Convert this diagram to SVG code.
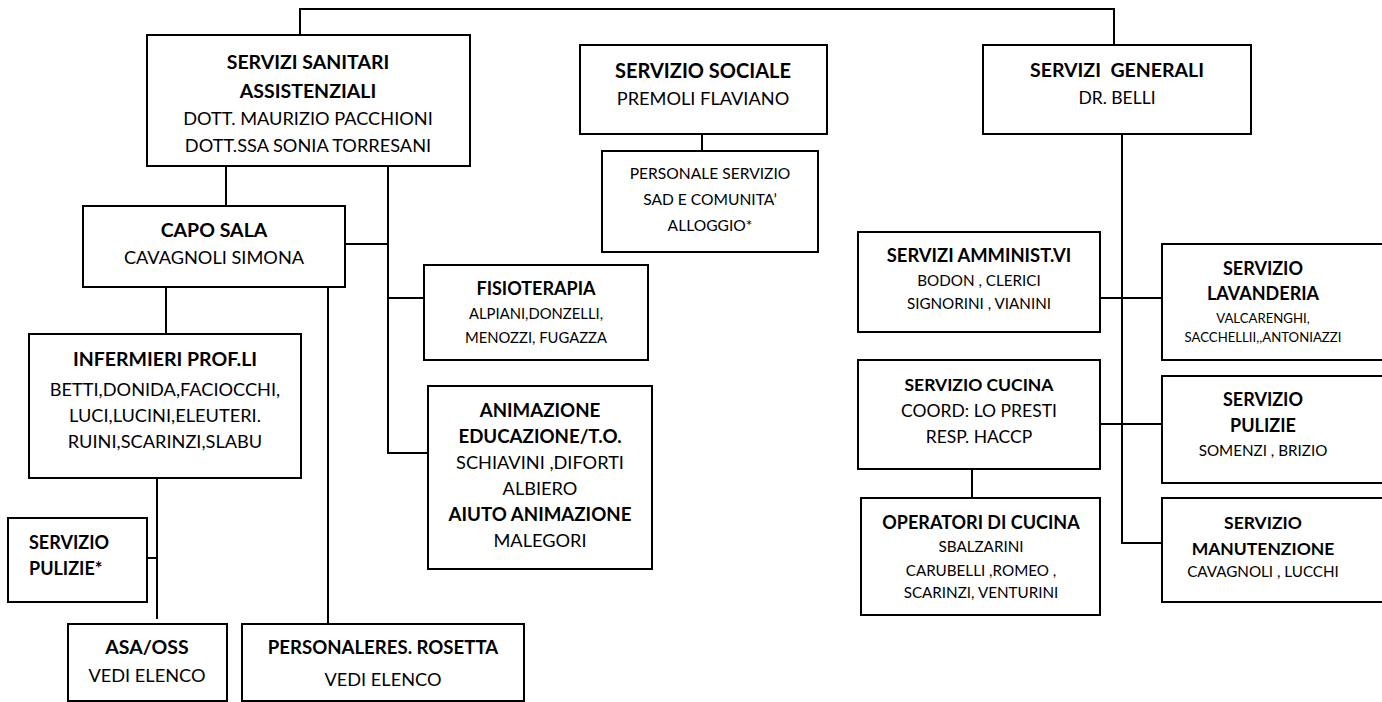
<svg xmlns="http://www.w3.org/2000/svg" width="1382" height="702" viewBox="0 0 1382 702">
<style>
rect{fill:#fff;stroke:#000;stroke-width:2}
#connectors line,#connectors polyline{stroke:#000;stroke-width:2;fill:none}
text{font-family:Lato,"Liberation Sans",sans-serif;fill:#000;text-anchor:middle;white-space:pre}
.b20{font-weight:bold;font-size:19.5px}
.b18{font-weight:bold;font-size:18px}
.r18{font-size:18.2px}
.r17{font-size:17.5px}
.r15{font-size:15.2px}
.r13{font-size:13.2px}
</style>
<rect x="0" y="0" width="1382" height="702" style="stroke:none"/>
<g id="connectors">
<polyline points="300,45 300,9 1114,9 1114,45"/>
<line x1="226" y1="166" x2="226" y2="206"/>
<polyline points="388,166 388,453 428,453"/>
<line x1="345" y1="244" x2="388" y2="244"/>
<line x1="388" y1="298" x2="424" y2="298"/>
<line x1="166" y1="287" x2="166" y2="334"/>
<line x1="328" y1="287" x2="328" y2="624"/>
<line x1="157" y1="478" x2="157" y2="619"/>
<line x1="147" y1="558" x2="157" y2="558"/>
<line x1="702" y1="134" x2="702" y2="151"/>
<polyline points="1122,134 1122,543 1162,543"/>
<line x1="1100" y1="298" x2="1162" y2="298"/>
<line x1="1100" y1="424" x2="1162" y2="424"/>
<line x1="972" y1="469" x2="972" y2="498"/>
</g>
<g id="servizi-sanitari">
<rect x="147" y="35" width="323" height="131"/>
<text x="308" y="69" class="b20">SERVIZI SANITARI</text>
<text x="308" y="98" class="b20">ASSISTENZIALI</text>
<text x="308" y="125" class="r18">DOTT. MAURIZIO PACCHIONI</text>
<text x="308" y="152" class="r18">DOTT.SSA SONIA TORRESANI</text>
</g>
<g id="capo-sala">
<rect x="83" y="206" width="262" height="81"/>
<text x="214" y="237" class="b20">CAPO SALA</text>
<text x="214" y="264" class="r18">CAVAGNOLI SIMONA</text>
</g>
<g id="infermieri">
<rect x="29" y="334" width="272" height="144"/>
<text x="165" y="366" class="b20">INFERMIERI PROF.LI</text>
<text x="165" y="396" class="r18">BETTI,DONIDA,FACIOCCHI,</text>
<text x="165" y="422" class="r18">LUCI,LUCINI,ELEUTERI.</text>
<text x="165" y="448" class="r18">RUINI,SCARINZI,SLABU</text>
</g>
<g id="servizio-pulizie-star">
<rect x="8" y="518" width="139" height="84"/>
<text x="29" y="549" class="b18" style="text-anchor:start">SERVIZIO</text>
<text x="29" y="575" class="b18" style="text-anchor:start">PULIZIE*</text>
</g>
<g id="asa-oss">
<rect x="68" y="624" width="159" height="77"/>
<text x="147" y="654" class="b20">ASA/OSS</text>
<text x="147" y="682" class="r18">VEDI ELENCO</text>
</g>
<g id="personale-res">
<rect x="242" y="624" width="282" height="77"/>
<text x="383" y="654" class="b18" style="font-size:18.6px">PERSONALERES. ROSETTA</text>
<text x="383" y="686" class="r18">VEDI ELENCO</text>
</g>
<g id="fisioterapia">
<rect x="424" y="265" width="224" height="95"/>
<text x="536" y="295" class="b18">FISIOTERAPIA</text>
<text x="536" y="319" class="r15" style="font-size:14.8px">ALPIANI,DONZELLI,</text>
<text x="536" y="343" class="r15" style="font-size:14.8px">MENOZZI, FUGAZZA</text>
</g>
<g id="animazione">
<rect x="428" y="386" width="224" height="183"/>
<text x="540" y="417" class="b18" style="font-size:18.7px">ANIMAZIONE</text>
<text x="540" y="443" class="b18" style="font-size:18.7px">EDUCAZIONE/T.O.</text>
<text x="540" y="469" class="r18">SCHIAVINI ,DIFORTI</text>
<text x="540" y="495" class="r18">ALBIERO</text>
<text x="540" y="521" class="b18" style="font-size:18.7px">AIUTO ANIMAZIONE</text>
<text x="540" y="547" class="r18">MALEGORI</text>
</g>
<g id="servizio-sociale">
<rect x="580" y="45" width="247" height="89"/>
<text x="703" y="78" class="b20" style="font-size:20px">SERVIZIO SOCIALE</text>
<text x="703" y="105" class="r18">PREMOLI FLAVIANO</text>
</g>
<g id="personale-servizio">
<rect x="602" y="151" width="216" height="101"/>
<text x="710" y="179" class="r15" style="font-size:15.6px">PERSONALE SERVIZIO</text>
<text x="710" y="205" class="r15" style="font-size:15.6px">SAD E COMUNITA’</text>
<text x="710" y="231" class="r15" style="font-size:15.6px">ALLOGGIO*</text>
</g>
<g id="servizi-generali">
<rect x="983" y="45" width="268" height="89"/>
<text x="1117" y="77" class="b20">SERVIZI  GENERALI</text>
<text x="1117" y="104" class="r17">DR. BELLI</text>
</g>
<g id="servizi-amministrativi">
<rect x="858" y="232" width="242" height="100"/>
<text x="979" y="262" class="b18" style="font-size:18.4px">SERVIZI AMMINIST.VI</text>
<text x="979" y="286" class="r15">BODON , CLERICI</text>
<text x="979" y="309" class="r15">SIGNORINI , VIANINI</text>
</g>
<g id="servizio-lavanderia">
<rect x="1162" y="244" width="224" height="116"/>
<text x="1263" y="275" class="b18">SERVIZIO</text>
<text x="1263" y="300" class="b18">LAVANDERIA</text>
<text x="1263" y="323" class="r13">VALCARENGHI,</text>
<text x="1263" y="342" class="r13">SACCHELLII,,ANTONIAZZI</text>
</g>
<g id="servizio-cucina">
<rect x="858" y="360" width="242" height="109"/>
<text x="979" y="391" class="b18" style="font-size:17.5px">SERVIZIO CUCINA</text>
<text x="979" y="417" class="r17">COORD: LO PRESTI</text>
<text x="979" y="443" class="r17">RESP. HACCP</text>
</g>
<g id="servizio-pulizie">
<rect x="1162" y="376" width="224" height="107"/>
<text x="1263" y="406" class="b18">SERVIZIO</text>
<text x="1263" y="432" class="b18">PULIZIE</text>
<text x="1263" y="456" class="r15">SOMENZI , BRIZIO</text>
</g>
<g id="operatori-cucina">
<rect x="861" y="498" width="239" height="117"/>
<text x="981" y="529" class="b18">OPERATORI DI CUCINA</text>
<text x="981" y="552" class="r15">SBALZARINI</text>
<text x="981" y="576" class="r15">CARUBELLI ,ROMEO ,</text>
<text x="981" y="598" class="r15">SCARINZI, VENTURINI</text>
</g>
<g id="servizio-manutenzione">
<rect x="1162" y="498" width="224" height="104"/>
<text x="1263" y="529" class="b18" style="font-size:17.5px">SERVIZIO</text>
<text x="1263" y="555" class="b18" style="font-size:17.5px">MANUTENZIONE</text>
<text x="1263" y="577" class="r15">CAVAGNOLI , LUCCHI</text>
</g>
</svg>
